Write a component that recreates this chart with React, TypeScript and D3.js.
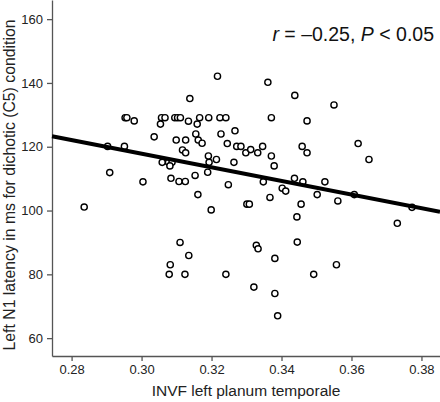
import React, { useEffect, useRef } from "react";
import * as d3 from "d3";

const invfValues: number[] = [
  0.3217, 0.3138, 0.2953, 0.2958, 0.2979, 0.3057, 0.3067, 0.3054, 0.3095, 0.3103,
  0.3111, 0.3134, 0.3166, 0.3159, 0.3192, 0.3224, 0.3241, 0.3267, 0.3227, 0.3036,
  0.3155, 0.3099, 0.3126, 0.3162, 0.3173, 0.3245, 0.3272, 0.3284, 0.3298, 0.3312,
  0.3332, 0.3346, 0.3117, 0.3126, 0.2903, 0.2951, 0.3191, 0.3214, 0.3193, 0.3059,
  0.3077, 0.3087, 0.3081, 0.3264, 0.2909, 0.3153, 0.3189, 0.3004, 0.3084, 0.3107,
  0.3125, 0.3248, 0.3161, 0.3199, 0.3301, 0.3308, 0.2836, 0.3110, 0.3135, 0.3082,
  0.3079, 0.3124, 0.3241, 0.3348, 0.3437, 0.3461, 0.3524, 0.3402, 0.3412, 0.3367,
  0.3502, 0.3608, 0.3561, 0.3456, 0.3773, 0.3444, 0.3731, 0.3328, 0.3333, 0.3445,
  0.3381, 0.3557, 0.3492, 0.3321, 0.3381, 0.3389, 0.3361, 0.3438, 0.3550, 0.3371,
  0.3473, 0.3619, 0.3650, 0.3459, 0.3473, 0.3371, 0.3379,
];

const latencyValues: number[] = [
  142.1, 135.1, 129.1, 129.1, 128.1, 129.1, 129.1, 127.1, 129.1, 129.1,
  129.1, 128.0, 129.1, 127.1, 129.1, 129.1, 129.1, 125.0, 124.0, 123.1,
  124.0, 122.1, 122.1, 122.1, 121.1, 121.0, 120.1, 120.1, 118.1, 119.1,
  118.1, 120.1, 119.0, 118.1, 120.1, 120.1, 117.1, 116.0, 115.1, 115.1,
  115.1, 115.1, 114.0, 115.1, 111.9, 111.0, 112.0, 109.0, 110.1, 109.1,
  109.1, 108.1, 105.0, 100.2, 102.0, 102.0, 101.1, 90.0, 85.9, 83.0,
  80.0, 80.0, 80.0, 109.0, 110.1, 109.0, 109.0, 107.0, 106.1, 104.1,
  105.0, 105.0, 103.0, 102.0, 101.0, 98.0, 96.0, 89.1, 88.0, 90.1,
  85.0, 83.0, 80.0, 76.0, 74.0, 67.0, 140.2, 136.1, 133.1, 129.1,
  128.1, 121.0, 116.0, 120.1, 118.1, 117.1, 114.0,
];

const fitLineX: number[] = [0.2744, 0.3853];
const fitLineY: number[] = [123.3, 99.6];

const xTicks: number[] = [0.28, 0.3, 0.32, 0.34, 0.36, 0.38];
const yTicks: number[] = [60, 80, 100, 120, 140, 160];

const xTitle = "INVF left planum temporale";
const yTitle = "Left N1 latency in ms for dichotic (C5) condition";

const W = 440;
const H = 402;
const FONT = "'Liberation Sans', Arial, Helvetica, sans-serif";

export default function App() {
  const ref = useRef<SVGSVGElement>(null);

  useEffect(() => {
    const svg = d3.select(ref.current);
    svg.selectAll("*").remove();

    const left = 52;
    const right = 440;
    const top = 0;
    const bottom = 356;

    const x = d3.scaleLinear().domain([0.2744, 0.3853]).range([left, right]);
    const y = d3.scaleLinear().domain([54.4, 166]).range([bottom, top]);

    svg.append("rect").attr("width", W).attr("height", H).attr("fill", "#fff");

    const xAxis = d3
      .axisBottom(x)
      .tickValues(xTicks)
      .tickFormat(d3.format(".2f") as any)
      .tickSize(5)
      .tickPadding(4)
      .tickSizeOuter(0);
    const yAxis = d3
      .axisLeft(y)
      .tickValues(yTicks)
      .tickFormat(d3.format("d") as any)
      .tickSize(5)
      .tickPadding(4)
      .tickSizeOuter(0);

    const gx = svg.append("g").attr("transform", `translate(0,${bottom})`).call(xAxis as any);
    const gy = svg.append("g").attr("transform", `translate(${left},0)`).call(yAxis as any);

    [gx, gy].forEach((g) => {
      g.select(".domain").attr("stroke", "#555").attr("stroke-width", 1.3);
      g.selectAll(".tick line").attr("stroke", "#555").attr("stroke-width", 1.3);
      g.selectAll(".tick text")
        .attr("fill", "#222")
        .style("font-family", FONT)
        .style("font-size", "13px");
    });

    const pts = invfValues.map((v, i) => ({ x: v, y: latencyValues[i] }));
    svg
      .append("g")
      .selectAll("circle")
      .data(pts)
      .join("circle")
      .attr("cx", (d) => x(d.x))
      .attr("cy", (d) => y(d.y))
      .attr("r", 3.1)
      .attr("fill", "#fff")
      .attr("stroke", "#000")
      .attr("stroke-width", 1.4);

    const line = d3
      .line<number>()
      .x((d) => x(d))
      .y((_, i) => y(fitLineY[i]));
    svg
      .append("path")
      .datum(fitLineX)
      .attr("d", line as any)
      .attr("fill", "none")
      .attr("stroke", "#000")
      .attr("stroke-width", 4);

    svg
      .append("text")
      .attr("x", (left + right) / 2)
      .attr("y", 396)
      .attr("text-anchor", "middle")
      .attr("fill", "#222")
      .style("font-family", FONT)
      .style("font-size", "15.5px")
      .text(xTitle);

    svg
      .append("text")
      .attr("transform", `translate(15,185) rotate(-90)`)
      .attr("text-anchor", "middle")
      .attr("fill", "#222")
      .style("font-family", FONT)
      .style("font-size", "15.8px")
      .text(yTitle);

    const ann = svg
      .append("text")
      .attr("x", 434)
      .attr("y", 41)
      .attr("text-anchor", "end")
      .attr("fill", "#111")
      .style("font-family", FONT)
      .style("font-size", "19.5px");
    ann.append("tspan").style("font-style", "italic").text("r");
    ann.append("tspan").text(" = \u20130.25, ");
    ann.append("tspan").style("font-style", "italic").text("P");
    ann.append("tspan").text(" < 0.05");
  }, []);

  return (
    <svg
      ref={ref}
      width={W}
      height={H}
      style={{ position: "absolute", left: 0, top: 0, display: "block" }}
    />
  );
}
